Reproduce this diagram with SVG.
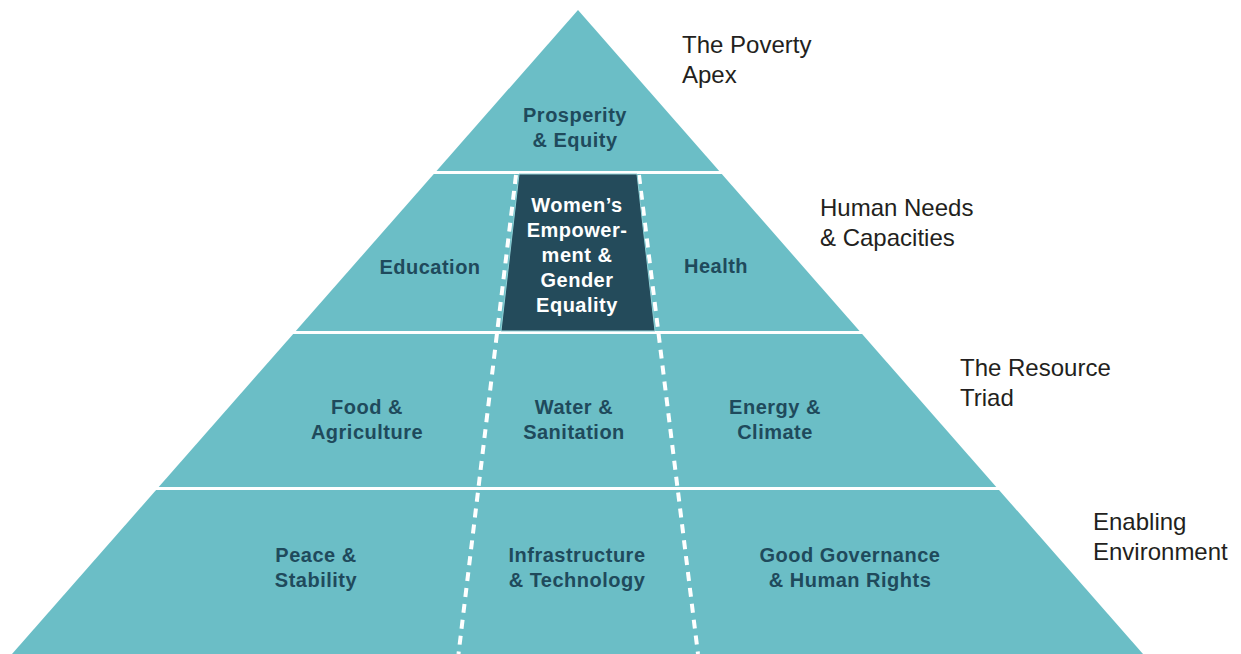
<svg xmlns="http://www.w3.org/2000/svg" width="1241" height="654" viewBox="0 0 1241 654">
<style>
.band{fill:#6bbec6}
.lbl{font-family:"Liberation Sans",Arial,sans-serif;font-weight:700;font-size:20px;letter-spacing:0.5px;fill:#1f4a5c;text-anchor:middle}
.wlbl{fill:#ffffff}
.side{font-family:"Liberation Sans",Arial,sans-serif;font-size:24px;fill:#231f20}
.dash{stroke:#ffffff;stroke-width:4;stroke-dasharray:9 7;fill:none}
</style>
<rect width="1241" height="654" fill="#ffffff"/>
<g id="tier-apex">
<polygon class="band" points="578,10 719.2,171 436.5,171"/>
<text class="lbl" x="575" y="122">Prosperity</text>
<text class="lbl" x="575" y="147">&amp; Equity</text>
</g>
<g id="tier-human-needs">
<polygon class="band" points="433.8,174 721.8,174 859.5,331 295.8,331"/>
<text class="lbl" x="430" y="274">Education</text>
<text class="lbl" x="716" y="273">Health</text>
</g>
<g id="tier-resource">
<polygon class="band" points="293.2,334 862.1,334 996.3,487 158.7,487"/>
<text class="lbl" x="367" y="414">Food &amp;</text>
<text class="lbl" x="367" y="439">Agriculture</text>
<text class="lbl" x="574" y="414">Water &amp;</text>
<text class="lbl" x="574" y="439">Sanitation</text>
<text class="lbl" x="775" y="414">Energy &amp;</text>
<text class="lbl" x="775" y="439">Climate</text>
</g>
<g id="tier-enabling">
<polygon class="band" points="156.1,490 999,490 1143,654 12,654"/>
<text class="lbl" x="316" y="562">Peace &amp;</text>
<text class="lbl" x="316" y="587">Stability</text>
<text class="lbl" x="577" y="562">Infrastructure</text>
<text class="lbl" x="577" y="587">&amp; Technology</text>
<text class="lbl" x="850" y="562">Good Governance</text>
<text class="lbl" x="850" y="587">&amp; Human Rights</text>
</g>
<g id="connectors">
<line class="dash" x1="516" y1="175" x2="458.5" y2="654"/>
<line class="dash" x1="639" y1="175" x2="698" y2="654"/>
</g>
<g id="womens-empowerment">
<polygon points="519,174 637,174 655,331 501,331" fill="#244b5b" stroke="#8fd0d6" stroke-width="1"/>
<text class="lbl wlbl" x="577" y="212">Women’s</text>
<text class="lbl wlbl" x="577" y="237">Empower-</text>
<text class="lbl wlbl" x="577" y="262">ment &amp;</text>
<text class="lbl wlbl" x="577" y="287">Gender</text>
<text class="lbl wlbl" x="577" y="312">Equality</text>
</g>
<g id="side-labels">
<text class="side" x="682" y="53">The Poverty</text>
<text class="side" x="682" y="83">Apex</text>
<text class="side" x="820" y="216">Human Needs</text>
<text class="side" x="820" y="246">&amp; Capacities</text>
<text class="side" x="960" y="376">The Resource</text>
<text class="side" x="960" y="406">Triad</text>
<text class="side" x="1093" y="530">Enabling</text>
<text class="side" x="1093" y="560">Environment</text>
</g>
</svg>
